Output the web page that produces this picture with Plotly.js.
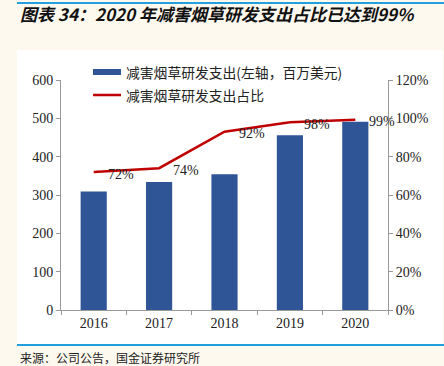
<!DOCTYPE html>
<html>
<head>
<meta charset="utf-8">
<script src="https://cdn.plot.ly/plotly-3.0.1.min.js"></script>
<style>html,body{margin:0;padding:0;background:#fef9ef;}#chart{width:444px;height:366px;}</style>
</head>
<body>
<div id="chart"></div>
<script>
// ---- data ----
const years = ['2016', '2017', '2018', '2019', '2020'];
const spend = [309, 334, 354, 456, 491];            // 百万美元
const share = [0.72, 0.74, 0.93, 0.98, 0.993];     // 占比
const shareLabels = ['72%', '74%', '92%', '98%', '99%'];
const barName = '减害烟草研发支出(左轴，百万美元)';
const lineName = '减害烟草研发支出占比';
const titleText = '图表 34：2020 年减害烟草研发支出占比已达到99%';
const sourceText = '来源：公司公告，国金证券研究所';

// ---- layout helpers (pixel -> paper) ----
const W = 444, H = 366;
const L = 61, R = 388, T = 80, B = 310;
const px = x => (x - L) / (R - L);
const py = y => (B - y) / (B - T);

const blue = '#2f5597';
const red = '#c00000';
const rule = '#21a0dd';
const serif = 'Liberation Serif, Times New Roman, serif';
const cjk = 'Noto Sans CJK SC, sans-serif';

const traces = [
  {
    type: 'bar', x: years, y: spend, name: barName,
    marker: {color: blue, line: {width: 0}}, width: 0.4,
    showlegend: false, hoverinfo: 'skip'
  },
  {
    type: 'scatter', mode: 'lines', x: years, y: share, name: lineName, yaxis: 'y2',
    line: {color: red, width: 2.5}, showlegend: false, hoverinfo: 'skip'
  }
];

const annotations = shareLabels.map((t, i) => ({
  x: i, y: share[i], xref: 'x', yref: 'y2', text: t, showarrow: false,
  xanchor: 'left', yanchor: 'middle', xshift: 12, yshift: -2,
  font: {family: serif, size: 14, color: '#222'}
}));

// custom legend + source
annotations.push(
  {xref: 'paper', yref: 'paper', x: px(124), y: py(72), text: barName, showarrow: false,
   xanchor: 'left', yanchor: 'middle', font: {family: cjk, size: 13.8, color: '#222'}},
  {xref: 'paper', yref: 'paper', x: px(124), y: py(95), text: lineName, showarrow: false,
   xanchor: 'left', yanchor: 'middle', font: {family: cjk, size: 13.8, color: '#222'}},
  {xref: 'paper', yref: 'paper', x: px(18), y: py(357), text: sourceText, showarrow: false,
   xanchor: 'left', yanchor: 'middle', font: {family: cjk, size: 12, color: '#222'}}
);

const shapes = [
  {type: 'rect', xref: 'paper', yref: 'paper', x0: px(17), x1: px(443), y0: py(50), y1: py(344),
   fillcolor: '#ffffff', line: {width: 0}, layer: 'below'},
  {type: 'line', xref: 'paper', yref: 'paper', x0: px(17), x1: px(444), y0: py(3), y1: py(3),
   line: {color: rule, width: 2}},
  {type: 'line', xref: 'paper', yref: 'paper', x0: px(17), x1: px(444), y0: py(345), y1: py(345),
   line: {color: rule, width: 2}},
  {type: 'rect', xref: 'paper', yref: 'paper', x0: px(93), x1: px(121), y0: py(69), y1: py(75),
   fillcolor: blue, line: {width: 0}},
  {type: 'line', xref: 'paper', yref: 'paper', x0: px(93), x1: px(121), y0: py(95), y1: py(95),
   line: {color: red, width: 2.5}}
];

const layout = {
  width: W, height: H,
  margin: {l: L, r: W - R, t: T, b: H - B, pad: 0},
  paper_bgcolor: '#fef9ef', plot_bgcolor: 'rgba(0,0,0,0)',
  showlegend: false,
  title: {
    text: '<b><i>' + titleText + '</i></b>',
    x: 20 / W, xanchor: 'left', xref: 'container',
    y: 1 - 15 / H, yanchor: 'middle', yref: 'container',
    font: {family: cjk, size: 17, color: '#111'}
  },
  xaxis: {
    type: 'category', range: [-0.5, years.length - 0.5], autorange: false,
    showgrid: false, zeroline: false,
    showline: true, linecolor: '#999', linewidth: 1,
    ticks: 'outside', tickson: 'boundaries', ticklen: 4, tickcolor: '#999',
    tickangle: 0,
    tickfont: {family: serif, size: 14, color: '#222'}
  },
  yaxis: {
    range: [0, 600], dtick: 100, showgrid: false, zeroline: false,
    showline: true, linecolor: '#999', linewidth: 1,
    ticks: 'outside', ticklen: 4, tickcolor: '#999',
    tickfont: {family: serif, size: 14, color: '#222'}
  },
  yaxis2: {
    overlaying: 'y', side: 'right', range: [0, 1.2], dtick: 0.2, tickformat: '.0%',
    showgrid: false, zeroline: false,
    showline: true, linecolor: '#999', linewidth: 1,
    ticks: 'outside', ticklen: 4, tickcolor: '#999',
    tickfont: {family: serif, size: 14, color: '#222'}
  },
  annotations: annotations,
  shapes: shapes
};

Plotly.newPlot('chart', traces, layout, {staticPlot: true, displayModeBar: false});
</script>
</body>
</html>
